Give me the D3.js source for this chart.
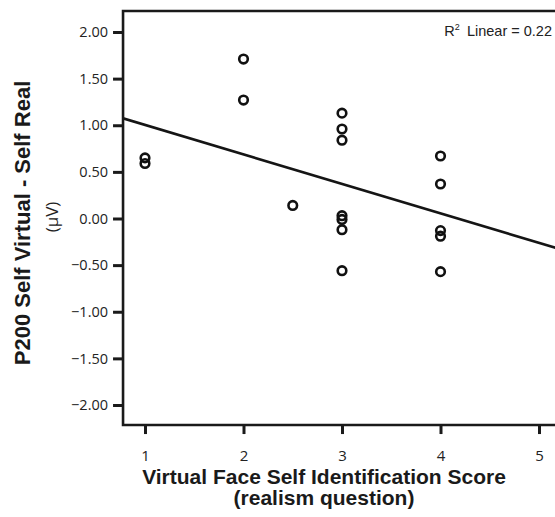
<!DOCTYPE html>
<html>
<head>
<meta charset="utf-8">
<script src="https://cdn.jsdelivr.net/npm/d3@7"></script>
<style>
  html, body { margin: 0; padding: 0; background: #fff; }
  svg { display: block; }
</style>
</head>
<body>
<div id="chart"></div>
<script>
// Scores on the realism question (x) and P200 amplitude difference in µV (y)
const realismScore = [1, 1, 2, 2, 2.5, 3, 3, 3, 3, 3, 3, 3, 4, 4, 4, 4, 4];
const p200Diff = [0.65, 0.59, 1.71, 1.27, 0.14, 1.13, 0.96, 0.84, 0.03, -0.01, -0.12, -0.56, 0.67, 0.37, -0.13, -0.19, -0.57];

const xTicks = [1, 2, 3, 4, 5];
const yTicks = [2, 1.5, 1, 0.5, 0, -0.5, -1, -1.5, -2];

const xTitle = "Virtual Face Self Identification Score";
const xSubtitle = "(realism question)";
const yTitle = "P200 Self Virtual - Self Real";
const ySubtitle = "(\u03BCV)";

const W = 555, H = 517;
const svg = d3.select("#chart").append("svg")
  .attr("width", W).attr("height", H);

const x = d3.scaleLinear().domain([1, 5]).range([145, 539]);
const y = d3.scaleLinear().domain([-2, 2]).range([405, 32]);

// plot frame extents in data units
const xLo = 0.777, xHi = 5.24;
const yLo = -2.215, yHi = 2.225;
const fx0 = x(xLo), fx1 = x(xHi), fy0 = y(yHi), fy1 = y(yLo);

// least-squares fit
const n = realismScore.length;
const mx = d3.mean(realismScore), my = d3.mean(p200Diff);
let sxy = 0, sxx = 0, syy = 0;
for (let i = 0; i < n; i++) {
  const dx = realismScore[i] - mx, dy = p200Diff[i] - my;
  sxy += dx * dy; sxx += dx * dx; syy += dy * dy;
}
const slope = sxy / sxx, intercept = my - slope * mx;
const r2 = (sxy * sxy) / (sxx * syy);

svg.append("clipPath").attr("id", "plotClip")
  .append("rect").attr("x", fx0).attr("y", fy0)
  .attr("width", fx1 - fx0).attr("height", fy1 - fy0);

// fit line
svg.append("line")
  .attr("clip-path", "url(#plotClip)")
  .attr("x1", x(xLo)).attr("y1", y(intercept + slope * xLo))
  .attr("x2", x(xHi)).attr("y2", y(intercept + slope * xHi))
  .attr("stroke", "#151515").attr("stroke-width", 2.6);

// points
svg.append("g").selectAll("circle")
  .data(realismScore.map((v, i) => [v, p200Diff[i]]))
  .join("circle")
  .attr("cx", d => x(d[0])).attr("cy", d => y(d[1]))
  .attr("r", 4.3)
  .attr("fill", "none").attr("stroke", "#111").attr("stroke-width", 2.6);

// frame: top, left, bottom
const frame = svg.append("g").attr("stroke", "#1a1a1a").attr("stroke-width", 2.6).attr("fill", "none");
frame.append("path").attr("d", `M${fx1},${fy0}H${fx0}V${fy1}H${fx1}`);

// y axis ticks and labels
const yAxis = svg.append("g").attr("transform", `translate(${fx0},0)`)
  .call(d3.axisLeft(y).tickValues(yTicks).tickSize(10).tickPadding(5)
    .tickFormat(d3.format(".2f")));
yAxis.select(".domain").remove();
yAxis.selectAll(".tick line").attr("stroke", "#1a1a1a").attr("stroke-width", 3);
yAxis.selectAll(".tick text")
  .attr("font-family", "'Open Sans', sans-serif").attr("font-size", 14.5)
  .attr("fill", "#222");

// x axis ticks and labels
const xAxis = svg.append("g").attr("transform", `translate(0,${fy1})`)
  .call(d3.axisBottom(x).tickValues(xTicks).tickSize(9).tickPadding(16)
    .tickFormat(d3.format("d")));
xAxis.select(".domain").remove();
xAxis.selectAll(".tick line").attr("stroke", "#1a1a1a").attr("stroke-width", 3);
xAxis.selectAll(".tick text")
  .attr("font-family", "'Open Sans', sans-serif").attr("font-size", 15)
  .attr("fill", "#222");

// R² annotation
const r2Text = svg.append("text")
  .attr("x", 552).attr("y", 36).attr("text-anchor", "end")
  .attr("font-family", "'Liberation Sans', Arial, sans-serif").attr("font-size", 14.5)
  .attr("fill", "#222");
r2Text.append("tspan").text("R");
r2Text.append("tspan").attr("font-size", 9).attr("dy", -6).text("2");
r2Text.append("tspan").attr("dy", 6).text("\u2002Linear = " + r2.toFixed(2));

// axis titles
svg.append("text")
  .attr("x", 324).attr("y", 484).attr("text-anchor", "middle")
  .attr("font-family", "'Liberation Sans', Arial, sans-serif")
  .attr("font-weight", "bold").attr("font-size", 21).attr("fill", "#1a1a1a")
  .text(xTitle);
svg.append("text")
  .attr("x", 324).attr("y", 505).attr("text-anchor", "middle")
  .attr("font-family", "'Liberation Sans', Arial, sans-serif")
  .attr("font-weight", "bold").attr("font-size", 21).attr("fill", "#1a1a1a")
  .text(xSubtitle);

svg.append("text")
  .attr("transform", "translate(30,223) rotate(-90)")
  .attr("text-anchor", "middle")
  .attr("font-family", "'Liberation Sans', Arial, sans-serif")
  .attr("font-weight", "bold").attr("font-size", 22).attr("fill", "#1a1a1a")
  .text(yTitle);
svg.append("text")
  .attr("transform", "translate(58,217) rotate(-90)")
  .attr("text-anchor", "middle")
  .attr("font-family", "'Open Sans', sans-serif")
  .attr("font-size", 17).attr("fill", "#222")
  .text(ySubtitle);
</script>
</body>
</html>
